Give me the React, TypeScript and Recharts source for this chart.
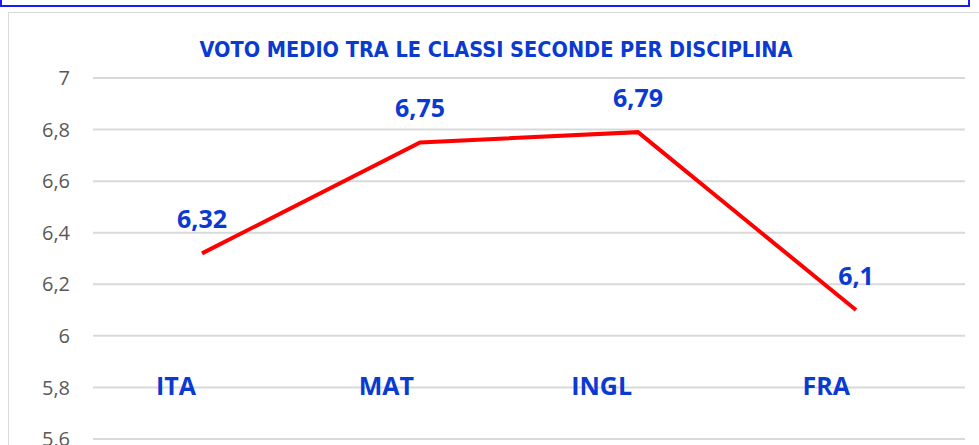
import { CartesianGrid, LabelList, Line, LineChart, XAxis, YAxis } from "recharts";

const categories = ["ITA", "MAT", "INGL", "FRA"];
const votes = [6.32, 6.75, 6.79, 6.1];
const yTicks = [5.6, 5.8, 6, 6.2, 6.4, 6.6, 6.8, 7];

const data = categories.map((name, i) => ({ name, voto: votes[i] }));

const BLUE = "#0a3ad0";
const comma = (v: number) => String(v).replace(".", ",");

function CategoryTick(props: any) {
  const { x, y, payload } = props;
  return (
    <text
      x={x - 6}
      y={y}
      dy={-52}
      textAnchor="end"
      fill={BLUE}
      fontFamily="'Open Sans', sans-serif"
      fontWeight={700}
      fontSize={25}
    >
      {payload.value}
    </text>
  );
}

export default function App() {
  return (
    <div style={{ position: "fixed", left: 0, top: 0, width: 979, height: 445, overflow: "hidden", background: "#fff" }}>
      <div
        style={{
          position: "absolute",
          left: 0,
          top: -10,
          width: 966,
          height: 13,
          border: "2px solid #1a1aff",
        }}
      />
      <div
        style={{
          position: "absolute",
          left: 8,
          top: 12,
          width: 1000,
          height: 500,
          border: "1.5px solid #d9d9d9",
        }}
      />
      <div style={{ position: "absolute", left: 0, top: 0 }}>
        <LineChart width={979} height={460} data={data} margin={{ top: 78, right: 14, bottom: 0, left: 0 }}>
          <text
            x={496}
            y={57}
            textAnchor="middle"
            fill={BLUE}
            fontFamily="'DejaVu Sans Condensed', sans-serif"
            fontWeight={700}
            fontSize={21.5}
          >
            VOTO MEDIO TRA LE CLASSI SECONDE PER DISCIPLINA
          </text>
          <CartesianGrid vertical={false} stroke="#d9d9d9" strokeWidth={2} />
          <XAxis
            dataKey="name"
            height={21}
            axisLine={false}
            tickLine={false}
            tick={<CategoryTick />}
            interval={0}
            padding={{ left: 109, right: 109 }}
          />
          <YAxis
            width={93}
            domain={[5.6, 7]}
            ticks={yTicks}
            axisLine={false}
            tickLine={false}
            tickMargin={17}
            tickFormatter={comma}
            tick={{ fill: "#595959", fontSize: 20, fontFamily: "'Open Sans', sans-serif" }}
          />
          <Line
            type="linear"
            dataKey="voto"
            stroke="#ff0000"
            strokeWidth={4}
            dot={false}
            isAnimationActive={false}
          >
            <LabelList
              dataKey="voto"
              position="top"
              offset={25}
              formatter={comma}
              fill={BLUE}
              fontFamily="'Open Sans', sans-serif"
              fontWeight={700}
              fontSize={25}
            />
          </Line>
        </LineChart>
      </div>
    </div>
  );
}
